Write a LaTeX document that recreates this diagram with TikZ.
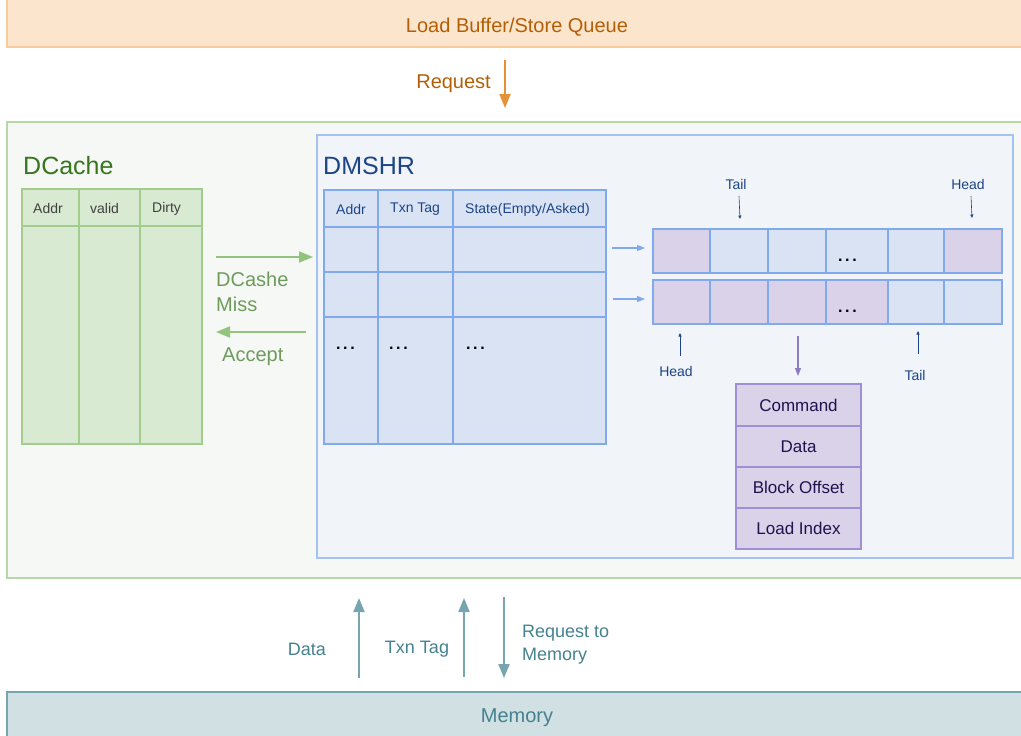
\documentclass[tikz,border=0pt]{standalone}
\usepackage{fontspec}
\setmainfont{Liberation Sans}
\usetikzlibrary{arrows.meta}
\definecolor{peachF}{HTML}{FCE5CD}
\definecolor{peachD}{HTML}{F9CB9C}
\definecolor{orangeT}{HTML}{B45F06}
\definecolor{orangeA}{HTML}{E69138}
\definecolor{greenBg}{HTML}{F5F8F5}
\definecolor{greenBd}{HTML}{B6D7A8}
\definecolor{greenF}{HTML}{D9EAD3}
\definecolor{greenD}{HTML}{A3CD8C}
\definecolor{greenT}{HTML}{38761D}
\definecolor{greenL}{HTML}{6E9B5C}
\definecolor{greenA}{HTML}{93C47D}
\definecolor{blueBg}{HTML}{F1F4F8}
\definecolor{blueBd}{HTML}{A4C2F4}
\definecolor{blueF}{HTML}{DAE3F3}
\definecolor{blueD}{HTML}{80A9EE}
\definecolor{blueT}{HTML}{1C4587}
\definecolor{purF}{HTML}{D9D2E9}
\definecolor{purD}{HTML}{9F8FD5}
\definecolor{purT}{HTML}{20124D}
\definecolor{purA}{HTML}{8E7CC3}
\definecolor{tealF}{HTML}{D0E0E3}
\definecolor{tealD}{HTML}{76A5AF}
\definecolor{tealT}{HTML}{45818E}
\newcommand{\mydots}{.\kern2.6pt.\kern2.6pt.}
\begin{document}
\begin{tikzpicture}[x=1pt,y=-1pt,
  box/.style={draw, anchor=north west, inner sep=0pt, outer sep=0pt, line width=1.2pt},
  gcell/.style={box, fill=greenF, draw=greenD},
  bcell/.style={box, fill=blueF, draw=blueD},
  pcell/.style={box, fill=purF, draw=purD, font=\fontsize{17}{20}\selectfont, text=purT},
  qcell/.style={box, draw=blueD, minimum height=44pt},
  ghdr/.style={anchor=west, inner sep=0pt, font=\fontsize{14}{16}\selectfont, text=black!75},
  bhdr/.style={anchor=west, inner sep=0pt, font=\fontsize{14}{16}\selectfont, text=blueT},
  small/.style={inner sep=0pt, font=\fontsize{14}{16}\selectfont, text=blueT},
  tinyarrow/.style={draw=blueT, line width=0.6pt, -{Triangle[length=3.5pt,width=3pt]}},
  bigarrow/.style={line width=2pt, -{Triangle[length=14pt,width=11pt]}},
  dots/.style={inner sep=0pt, anchor=west, font=\fontsize{16}{18}\selectfont\bfseries},
]
\useasboundingbox (0,0) rectangle (1021,736);

% top bar
\node[box, fill=peachF, draw=peachD, minimum width=1020pt, minimum height=50pt] (lsq) at (7,-3) {};
\node[text=orangeT, font=\fontsize{20}{24}\selectfont] (lsqt) at (517,27) {Load Buffer/Store Queue};
\coordinate (rq1) at (505,60);
\coordinate (rq2) at (505,108);
\draw[orangeA, bigarrow] (rq1) -- (rq2);
\node[anchor=east, inner sep=0pt, text=orangeT, font=\fontsize{20}{24}\selectfont] (rqt) at (491,84) {Request};

% green container
\node[box, fill=greenBg, draw=greenBd, minimum width=1020pt, minimum height=456pt] (gc) at (7,122) {};
\node[anchor=west, inner sep=0pt, text=greenT, font=\fontsize{25}{30}\selectfont] (dct) at (23,166) {DCache};

% DCache table
\node[gcell, minimum width=57pt, minimum height=37pt] (dh1) at (22,189) {};
\node[gcell, minimum width=61pt, minimum height=37pt] (dh2) at (79,189) {};
\node[gcell, minimum width=62pt, minimum height=37pt] (dh3) at (140,189) {};
\node[gcell, minimum width=57pt, minimum height=218pt] (db1) at (22,226) {};
\node[gcell, minimum width=61pt, minimum height=218pt] (db2) at (79,226) {};
\node[gcell, minimum width=62pt, minimum height=218pt] (db3) at (140,226) {};
\node[ghdr] (dht1) at ([xshift=11pt,yshift=-1pt]dh1.west) {Addr};
\node[ghdr] (dht2) at ([xshift=11pt,yshift=-1pt]dh2.west) {valid};
\node[ghdr] (dht3) at ([xshift=12pt,yshift=-1pt]dh3.west) {Dirty};

% DCache <-> DMSHR arrows
\coordinate (ma1) at (216,257);
\coordinate (ma2) at (313,257);
\coordinate (aa1) at (306,332);
\coordinate (aa2) at (216,332);
\draw[greenA, bigarrow] (ma1) -- (ma2);
\draw[greenA, bigarrow] (aa1) -- (aa2);
\node[anchor=west, inner sep=0pt, align=left, text=greenL, font=\fontsize{20}{25}\selectfont] (mt) at (216,292) {DCashe\\Miss};
\node[anchor=west, inner sep=0pt, text=greenL, font=\fontsize{20}{24}\selectfont] (at) at (222,357) {Accept};

% DMSHR container
\node[box, fill=blueBg, draw=blueBd, minimum width=696pt, minimum height=423pt] (dm) at (317,135) {};
\node[anchor=west, inner sep=0pt, text=blueT, font=\fontsize{25}{30}\selectfont] (dmt) at (323,166) {DMSHR};

% DMSHR table
\foreach \r/\y/\h in {0/190/37,1/227/45,2/272/45,3/317/127}{
  \node[bcell, minimum width=54pt, minimum height=\h pt] (m\r a) at (324,\y) {};
  \node[bcell, minimum width=75pt, minimum height=\h pt] (m\r b) at (378,\y) {};
  \node[bcell, minimum width=153pt, minimum height=\h pt] (m\r c) at (453,\y) {};
}
\node[bhdr] (mh1) at ([xshift=12pt,yshift=-1pt]m0a.west) {Addr};
\node[bhdr] (mh2) at ([xshift=12pt,yshift=-1pt]m0b.west) {Txn Tag};
\node[bhdr] (mh3) at ([xshift=12pt,yshift=-1pt]m0c.west) {State(Empty/Asked)};
\node[dots] (md1) at (336,348) {\mydots};
\node[dots] (md2) at (389,348) {\mydots};
\node[dots] (md3) at (466,348) {\mydots};

% queues
\foreach \i/\x/\w/\c in {1/653/57/purF,2/710/58/blueF,3/768/58/blueF,4/826/62/blueF,5/888/56/blueF,6/944/58/purF}
  \node[qcell, fill=\c, minimum width=\w pt] (qa\i) at (\x,229) {};
\foreach \i/\x/\w/\c in {1/653/57/purF,2/710/58/purF,3/768/58/purF,4/826/62/purF,5/888/56/blueF,6/944/58/blueF}
  \node[qcell, fill=\c, minimum width=\w pt] (qb\i) at (\x,280) {};
\node[dots] (qad) at (838,260) {\mydots};
\node[dots] (qbd) at (838,311) {\mydots};

\coordinate (qaa) at (612,248);
\coordinate (qba) at (613,299);
\draw[blueD, line width=1.2pt, -{Triangle[length=8pt,width=6pt]}] (qaa) -- ([xshift=-8pt]qa1.west |- qaa);
\draw[blueD, line width=1.2pt, -{Triangle[length=8pt,width=6pt]}] (qba) -- ([xshift=-8pt]qb1.west |- qba);

% head / tail markers
\node[small] (t1) at (736,184) {Tail};
\node[small] (h1) at (968,184) {Head};
\node[small] (h2) at (676,371) {Head};
\node[small] (t2) at (915,375) {Tail};
\coordinate (t1a) at (739,196); \coordinate (t1b) at (740,219);
\coordinate (h1a) at (971,196); \coordinate (h1b) at (972,218);
\coordinate (h2a) at (680,356); \coordinate (h2b) at (680,333);
\coordinate (t2a) at (918,354); \coordinate (t2b) at (918,331);
\draw[tinyarrow] (t1a) -- (t1b);
\draw[tinyarrow] (h1a) -- (h1b);
\draw[tinyarrow] (h2a) -- (h2b);
\draw[tinyarrow] (t2a) -- (t2b);

% entry box
\node[pcell, minimum width=125pt, minimum height=42pt] (c1) at (736,384) {Command};
\node[pcell, minimum width=125pt, minimum height=41pt] (c2) at (736,426) {Data};
\node[pcell, minimum width=125pt, minimum height=41pt] (c3) at (736,467) {Block Offset};
\node[pcell, minimum width=125pt, minimum height=41pt] (c4) at (736,508) {Load Index};
\coordinate (pa1) at (798,336);
\coordinate (pa2) at (798,376);
\draw[purA, line width=1.2pt, -{Triangle[length=8pt,width=6pt]}] (pa1) -- (pa2);

% memory
\node[box, fill=tealF, draw=tealD, minimum width=1020pt, minimum height=50pt] (mem) at (7,692) {};
\node[text=tealT, font=\fontsize{20}{24}\selectfont] (memt) at (517,718) {Memory};
\coordinate (d1) at (359,678); \coordinate (d2) at (359,598);
\coordinate (x1) at (464,677); \coordinate (x2) at (464,598);
\coordinate (r1) at (504,597); \coordinate (r2) at (504,678);
\draw[tealD, bigarrow] (d1) -- (d2);
\draw[tealD, bigarrow] (x1) -- (x2);
\draw[tealD, bigarrow] (r1) -- (r2);
\node[text=tealT, inner sep=0pt, font=\fontsize{18}{22}\selectfont] (dt) at (307,649) {Data};
\node[text=tealT, inner sep=0pt, font=\fontsize{18}{22}\selectfont] (xt) at (417,649) {Txn Tag};
\node[anchor=west, align=left, text=tealT, inner sep=0pt, font=\fontsize{18}{23}\selectfont] (rt) at (522,645) {Request to\\Memory};
\end{tikzpicture}
\end{document}
